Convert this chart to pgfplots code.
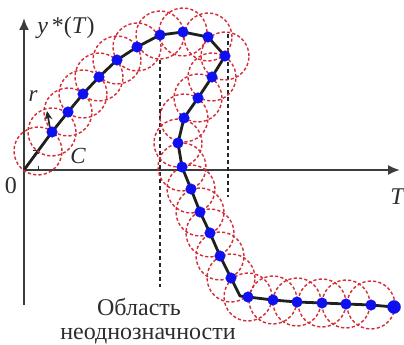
\documentclass[border=0pt]{standalone}
\usepackage{fontspec}
\setmainfont{Liberation Serif}
\usepackage{pgfplots}
\pgfplotsset{compat=1.18}
\usetikzlibrary{arrows.meta}
\definecolor{circred}{RGB}{210,45,55}
\definecolor{dotblue}{RGB}{15,15,240}
\definecolor{axgray}{RGB}{60,60,60}
\definecolor{txtgray}{RGB}{45,45,45}
\begin{document}
\begin{tikzpicture}
\begin{axis}[
  x=1pt, y=1pt,
  axis lines=middle,
  xmin=0, xmax=376, ymin=-135, ymax=152,
  xtick=\empty, ytick=\empty,
  axis line style={draw=axgray, line width=1.9pt, -{Latex[length=12pt,width=10pt]}},
  clip=false,
]
% dashed circles (centres on the curve)
\addplot[only marks, mark=o, mark size=24pt,
  mark options={draw=circred, line width=1.4pt, dash pattern=on 3.2pt off 2.2pt, fill=none}]
coordinates {
(14,19) (28,38) (44,58) (59,76) (75,93) (93,110) (113,123) (136,135) (159,138)
(184,133) (201,114) (188,93) (174,72) (160,52) (154,27) (158,3) (167,-19)
(176,-42) (186,-63) (196,-86) (207,-108) (224,-127) (249,-130) (273,-132)
(298,-133) (322,-134) (347,-135)
};
% region of ambiguity
\addplot[color=black!85, line width=1.7pt, dash pattern=on 4pt off 3pt] coordinates {(136,110) (136,-117)};
\addplot[color=black!85, line width=1.7pt, dash pattern=on 4pt off 3pt] coordinates {(204,136) (204,-27)};
% curve
\addplot[color=black!88, line width=2.8pt, line join=round] coordinates {
(0,0) (28,38) (44,58) (59,76) (75,93) (93,110) (113,123) (136,135) (159,138)
(184,133) (201,114) (188,93) (174,72) (160,52) (154,27) (158,3) (167,-19)
(176,-42) (186,-63) (196,-86) (207,-108) (216,-126) (224,-127) (249,-130)
(273,-132) (298,-133) (322,-134) (347,-135) (370,-137)
};
% points
\addplot[only marks, mark=*, mark size=5.3pt, color=dotblue] coordinates {
(28,38) (44,58) (59,76) (75,93) (93,110) (113,123) (136,135) (159,138)
(184,133) (201,114) (188,93) (174,72) (160,52) (154,27) (158,3) (167,-19)
(176,-42) (186,-63) (196,-86) (207,-108) (224,-127) (249,-130)
(273,-132) (298,-133) (322,-134) (347,-135)
};
\addplot[only marks, mark=*, mark size=6.5pt, color=dotblue] coordinates {(370,-137)};
% radius arrow
\draw[black!85, line width=1.7pt, -{Stealth[length=9pt,width=8pt]}] (axis cs:27,36) -- (axis cs:23,59);
% centre tick marks
\draw[black!80, line width=1pt] (axis cs:9,19) -- (axis cs:15,19) -- (axis cs:15,16);
\draw[black!80, line width=1pt] (axis cs:15,0) -- (axis cs:15,4);
% labels
\node[txtgray, font=\fontsize{24}{28}\selectfont] at (axis cs:42,142) {\textit{y}\,*(\textit{T})};
\node[txtgray, font=\fontsize{23}{27}\selectfont\itshape] at (axis cs:9,74) {r};
\node[txtgray, font=\fontsize{23}{27}\selectfont\itshape] at (axis cs:54,14) {C};
\node[txtgray, font=\fontsize{24}{28}\selectfont] at (axis cs:-13,-16) {0};
\node[txtgray, font=\fontsize{24}{28}\selectfont\itshape] at (axis cs:373,-27) {T};
\node[txtgray, font=\fontsize{24}{28}\selectfont, anchor=base, inner sep=0pt] at (axis cs:115,-145) {Область};
\node[txtgray, font=\fontsize{24}{28}\selectfont, anchor=base, inner sep=0pt] at (axis cs:124,-169) {неоднозначности};
\coordinate (bbsw) at (axis cs:-24,-175);
\coordinate (bbne) at (axis cs:380,170);
\end{axis}
\pgfresetboundingbox
\path (bbsw) rectangle (bbne);
\end{tikzpicture}
\end{document}
